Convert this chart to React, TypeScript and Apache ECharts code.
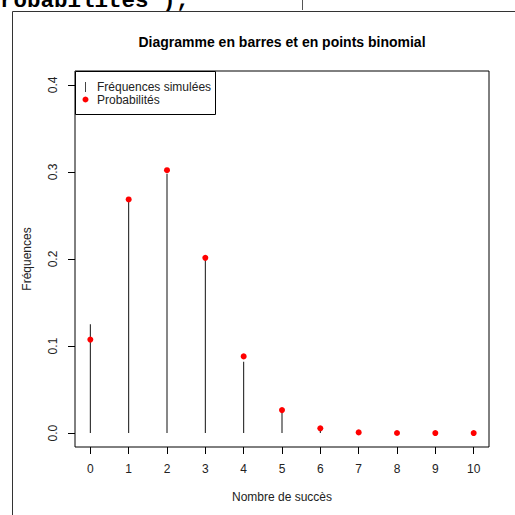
import { useEffect, useRef } from "react";
import * as echarts from "echarts";

// Number of successes (x) and the two measured quantities per value
const successes = [0, 1, 2, 3, 4, 5, 6, 7, 8, 9, 10];
const simulatedFreq = [0.125, 0.267, 0.298, 0.199, 0.082, 0.025, 0.004, 0, 0, 0, 0];
const probabilities = [0.1074, 0.2684, 0.302, 0.2013, 0.0881, 0.0264, 0.0055, 0.0008, 0.0001, 0, 0];

// Tick positions / labels
const xTicks = [0, 1, 2, 3, 4, 5, 6, 7, 8, 9, 10];
const yTicks = [0, 0.1, 0.2, 0.3, 0.4];

const FONT = "Liberation Sans, Arial, sans-serif";
const MONO = "Liberation Mono, Courier New, monospace";

export default function App() {
  const ref = useRef<HTMLDivElement | null>(null);

  useEffect(() => {
    if (!ref.current) return;
    const chart = echarts.init(ref.current, null, { renderer: "svg" });

    chart.setOption({
      animation: false,
      backgroundColor: "#ffffff",
      title: {
        text: "Diagramme en barres et en points binomial",
        left: 282,
        top: 35,
        padding: 0,
        textAlign: "center",
        textStyle: { fontFamily: FONT, fontSize: 14, fontWeight: "bold", color: "#000" },
      },
      grid: {
        left: 75,
        top: 71,
        right: 26,
        bottom: 68,
        show: true,
        borderColor: "#000",
        borderWidth: 1,
        backgroundColor: "transparent",
      },
      xAxis: {
        type: "value",
        min: -0.4,
        max: 10.4,
        axisLine: { show: false, onZero: false },
        splitLine: { show: false },
        axisTick: {
          show: true,
          length: 7,
          customValues: xTicks,
          lineStyle: { color: "#000", width: 1 },
        },
        axisLabel: {
          customValues: xTicks,
          margin: 16,
          fontFamily: FONT,
          fontSize: 12,
          color: "#222",
        },
        name: "Nombre de succès",
        nameLocation: "middle",
        nameGap: 44,
        nameTextStyle: { fontFamily: FONT, fontSize: 12, color: "#222" },
      },
      yAxis: {
        type: "value",
        min: -0.016,
        max: 0.416,
        axisLine: { show: false, onZero: false },
        splitLine: { show: false },
        axisTick: {
          show: true,
          length: 7,
          customValues: yTicks,
          lineStyle: { color: "#000", width: 1 },
        },
        axisLabel: {
          customValues: yTicks,
          rotate: 90,
          margin: 16,
          fontFamily: FONT,
          fontSize: 12,
          color: "#222",
          formatter: (v: number) => v.toFixed(1),
        },
        name: "Fréquences",
        nameLocation: "middle",
        nameGap: 42,
        nameTextStyle: { fontFamily: FONT, fontSize: 12, color: "#222" },
      },
      series: [
        {
          name: "Fréquences simulées",
          type: "bar",
          barWidth: 1,
          data: successes.map((x, i) => [x, simulatedFreq[i]]),
          itemStyle: { color: "#111" },
        },
        {
          name: "Probabilités",
          type: "scatter",
          symbol: "circle",
          symbolSize: 6,
          data: successes.map((x, i) => [x, probabilities[i]]),
          itemStyle: { color: "#ff0000", opacity: 1 },
          z: 5,
        },
      ],
      graphic: [
        // console line above the plot window
        {
          type: "text",
          x: -27,
          y: 1,
          style: {
            text: '"Probabilites");',
            font: `bold 22.5px ${MONO}`,
            fill: "#000",
            textVerticalAlign: "middle",
          },
        },
        {
          type: "line",
          shape: { x1: 302.5, y1: 0, x2: 302.5, y2: 10 },
          style: { stroke: "#555", lineWidth: 1 },
        },
        // window frame
        {
          type: "polyline",
          shape: { points: [[12.5, 515], [12.5, 11.5], [515, 11.5]] },
          style: { stroke: "#333", lineWidth: 1, fill: null },
        },
        // legend box
        {
          type: "group",
          children: [
            {
              type: "rect",
              shape: { x: 75.5, y: 71.5, width: 140, height: 43 },
              style: { fill: "#fff", stroke: "#000", lineWidth: 1 },
            },
            {
              type: "line",
              shape: { x1: 85.5, y1: 82, x2: 85.5, y2: 92 },
              style: { stroke: "#444", lineWidth: 1 },
            },
            {
              type: "circle",
              shape: { cx: 85.5, cy: 99.5, r: 3 },
              style: { fill: "#ff0000" },
            },
            {
              type: "text",
              x: 97,
              y: 87,
              style: {
                text: "Fréquences simulées",
                font: `12px ${FONT}`,
                fill: "#222",
                textVerticalAlign: "middle",
              },
            },
            {
              type: "text",
              x: 97,
              y: 100,
              style: {
                text: "Probabilités",
                font: `12px ${FONT}`,
                fill: "#222",
                textVerticalAlign: "middle",
              },
            },
          ],
        },
      ],
    });

    return () => chart.dispose();
  }, []);

  return (
    <div
      ref={ref}
      style={{ position: "fixed", left: 0, top: 0, width: 515, height: 515 }}
    />
  );
}
